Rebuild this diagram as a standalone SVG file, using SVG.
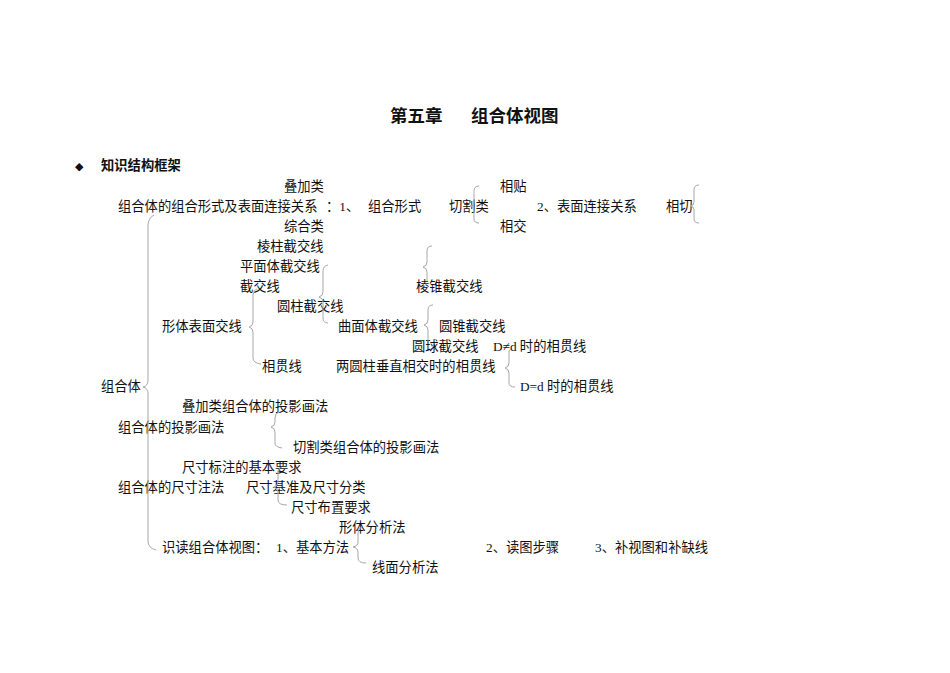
<svg xmlns="http://www.w3.org/2000/svg" width="950" height="673" viewBox="0 0 950 673">
<style>
text{font-family:"Liberation Serif","Noto Sans CJK SC",serif;font-size:13.3px;fill:#111}
.t{font-family:"Noto Sans CJK SC",sans-serif;font-weight:bold;font-size:17.5px}
.h{font-family:"Noto Sans CJK SC",sans-serif;font-weight:bold;font-size:13.3px}
.b{fill:none;stroke:#a8a8a8;stroke-width:1}
</style>
<rect width="950" height="673" fill="#fff"/>
<g id="title"><text class="t" x="390" y="122">第五章</text><text class="t" x="471" y="122">组合体视图</text></g>
<g id="heading"><text x="75" y="170" style="font-family:'DejaVu Sans',sans-serif;font-size:11px">◆</text><text class="h" x="101" y="170">知识结构框架</text></g>
<g id="n-diejia"><text x="284" y="191">叠加类</text></g>
<g id="n-xingshi"><text x="118" y="211">组合体的组合形式及表面连接关系</text><text x="326" y="211">：1、</text><text x="368" y="211">组合形式</text></g>
<g id="n-qiege"><text x="449" y="211">切割类</text></g>
<g id="n-xiangtie"><text x="500" y="191">相贴</text></g>
<g id="n-xiangjiao"><text x="500" y="231">相交</text></g>
<g id="n-biaomian"><text x="537" y="211">2、表面连接关系</text></g>
<g id="n-xiangqie"><text x="666" y="211">相切</text></g>
<g id="n-zonghe"><text x="284" y="231">综合类</text></g>
<g id="n-lengzhu"><text x="257" y="251">棱柱截交线</text></g>
<g id="n-pingmian"><text x="240" y="271">平面体截交线</text></g>
<g id="n-jiejiao"><text x="240" y="291">截交线</text></g>
<g id="n-lengzhui"><text x="416" y="291">棱锥截交线</text></g>
<g id="n-yuanzhu"><text x="277" y="311">圆柱截交线</text></g>
<g id="n-biaomianjiao"><text x="162" y="331">形体表面交线</text></g>
<g id="n-qumian"><text x="338" y="331">曲面体截交线</text></g>
<g id="n-yuanzhui"><text x="439" y="331">圆锥截交线</text></g>
<g id="n-yuanqiu"><text x="412" y="351">圆球截交线</text></g>
<g id="n-dned"><text x="493" y="351">D≠d 时的相贯线</text></g>
<g id="n-xiangguan"><text x="262" y="371">相贯线</text></g>
<g id="n-liangyuanzhu"><text x="336" y="371">两圆柱垂直相交时的相贯线</text></g>
<g id="n-ded"><text x="520" y="391">D=d 时的相贯线</text></g>
<g id="n-zuheti"><text x="101" y="391">组合体</text></g>
<g id="n-diejiahua"><text x="182" y="411">叠加类组合体的投影画法</text></g>
<g id="n-touying"><text x="118" y="432">组合体的投影画法</text></g>
<g id="n-qiegehua"><text x="293" y="452">切割类组合体的投影画法</text></g>
<g id="n-jibenyaoqiu"><text x="182" y="472">尺寸标注的基本要求</text></g>
<g id="n-chicun"><text x="118" y="492">组合体的尺寸注法</text></g>
<g id="n-jizhun"><text x="246" y="492">尺寸基准及尺寸分类</text></g>
<g id="n-buzhi"><text x="291" y="512">尺寸布置要求</text></g>
<g id="n-xingti"><text x="339" y="532">形体分析法</text></g>
<g id="n-shidu"><text x="162" y="552">识读组合体视图：</text><text x="276" y="552">1、基本方法</text></g>
<g id="n-dutu"><text x="486" y="552">2、读图步骤</text></g>
<g id="n-bushitu"><text x="595" y="552">3、补视图和补缺线</text></g>
<g id="n-xianmian"><text x="372" y="572">线面分析法</text></g>
<g id="connectors">
<path class="b" d="M154 215 Q148 218 148 226 L148 380 Q148 386 143 387 Q148 388 148 394 L148 541 Q148 548 156 550"/>
<path class="b" d="M479 186 Q474 186 474 191 L474 202 Q474 206 470 206 Q474 206 474 210 L474 219 Q474 223 479 223"/>
<path class="b" d="M699 185 Q694 185 694 190 L694 202 Q694 206 690 206 Q694 206 694 210 L694 219 Q694 223 699 223"/>
<path class="b" d="M432 246 Q427 246 427 251 L427 262 Q427 266 423 267 Q427 268 427 272 L427 281"/>
<path class="b" d="M328 265 Q323 266 323 271 L323 292 Q323 296 319 297 Q323 298 323 302 L323 318 Q323 323 328 323"/>
<path class="b" d="M257 289 Q253 290 253 295 L253 322 Q253 326 249 327 Q253 328 253 332 L253 358 Q253 363 261 364"/>
<path class="b" d="M433 305 Q428 305 428 310 L428 320 Q428 324 424 325 Q428 326 428 330 L428 341"/>
<path class="b" d="M511 349 L509 351 L509 363 Q509 367 505 368 Q509 369 509 373 L509 383 Q509 387 515 387"/>
<path class="b" d="M279 412 Q275 413 275 418 L275 422 Q275 426 271 427 Q275 428 275 432 L275 443 Q275 447 282 448"/>
<path class="b" d="M282 467 Q278 468 278 472 L278 482 Q278 486 274 487 Q278 488 278 492 L278 500 Q278 505 287 505"/>
<path class="b" d="M362 527 Q358 528 358 533 L358 542 Q358 546 353 547 Q358 548 358 552 L358 558 Q358 563 366 563"/>
</g>
</svg>
